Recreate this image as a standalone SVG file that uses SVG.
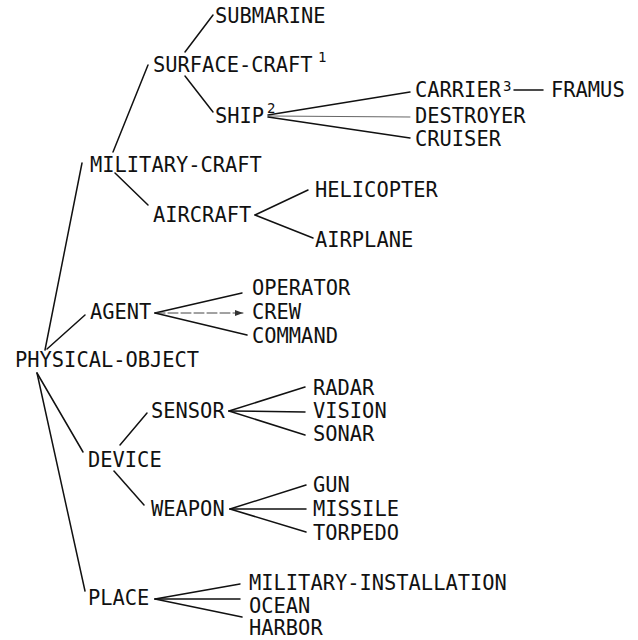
<svg xmlns="http://www.w3.org/2000/svg" width="638" height="640" viewBox="0 0 638 640">
<style>
  text { font-family: "DejaVu Sans Mono", "Liberation Mono", monospace; font-size: 20.4px; fill: #111; }
  text.sup { font-size: 14px; }
  line { stroke: #111; stroke-width: 1.5; stroke-linecap: round; }
  line.thin { stroke: #555; stroke-width: 0.9; }
  line.dash { stroke: #444; stroke-width: 1; stroke-dasharray: 10 3; }
</style>
<defs>
  <marker id="tip" viewBox="0 0 8 6" refX="8" refY="3" markerWidth="8" markerHeight="6" markerUnits="userSpaceOnUse" orient="auto">
    <path d="M0,0 L8,3 L0,6 Z" fill="#333"/>
  </marker>
</defs>
<rect width="638" height="640" fill="#fff"/>
<g id="connectors">
  <line x1="45" y1="350" x2="82" y2="163"/>
  <line x1="47" y1="349" x2="85" y2="315"/>
  <line x1="37" y1="373" x2="83" y2="452"/>
  <line x1="37" y1="373" x2="85" y2="591"/>
  <line x1="113" y1="152" x2="148" y2="65"/>
  <line x1="115" y1="173" x2="148" y2="205"/>
  <line x1="185" y1="52" x2="213" y2="15"/>
  <line x1="185" y1="76" x2="213" y2="112"/>
  <line x1="268" y1="115" x2="410" y2="92"/>
  <line class="thin" x1="268" y1="116" x2="410" y2="117"/>
  <line x1="268" y1="117" x2="410" y2="138"/>
  <line x1="514" y1="90" x2="543" y2="90"/>
  <line x1="255" y1="215" x2="308" y2="190"/>
  <line x1="255" y1="215" x2="313" y2="238"/>
  <line x1="155" y1="313" x2="242" y2="293"/>
  <line class="dash" x1="155" y1="313" x2="243" y2="313" marker-end="url(#tip)"/>
  <line x1="155" y1="313" x2="247" y2="335"/>
  <line x1="120" y1="445" x2="147" y2="413"/>
  <line x1="114" y1="471" x2="144" y2="505"/>
  <line x1="229" y1="411" x2="305" y2="387"/>
  <line x1="229" y1="411" x2="305" y2="412"/>
  <line x1="229" y1="411" x2="305" y2="435"/>
  <line x1="230" y1="509" x2="306" y2="485"/>
  <line x1="230" y1="509" x2="306" y2="509"/>
  <line x1="230" y1="509" x2="306" y2="532"/>
  <line x1="155" y1="599" x2="240" y2="584"/>
  <line x1="155" y1="599" x2="240" y2="599"/>
  <line x1="155" y1="599" x2="242" y2="617"/>
</g>
<g id="physical-object"><text x="15" y="367">PHYSICAL-OBJECT</text></g>
<g id="military-craft"><text x="90" y="172">MILITARY-CRAFT</text></g>
<g id="surface-craft"><text x="153" y="72">SURFACE-CRAFT</text><text class="sup" x="318" y="62">1</text></g>
<g id="submarine"><text x="215" y="23">SUBMARINE</text></g>
<g id="ship"><text x="215" y="123">SHIP</text><text class="sup" x="267" y="113">2</text></g>
<g id="carrier"><text x="415" y="97">CARRIER</text><text class="sup" x="503" y="91">3</text></g>
<g id="framus"><text x="551" y="97">FRAMUS</text></g>
<g id="destroyer"><text x="415" y="123">DESTROYER</text></g>
<g id="cruiser"><text x="415" y="146">CRUISER</text></g>
<g id="aircraft"><text x="153" y="222">AIRCRAFT</text></g>
<g id="helicopter"><text x="315" y="197">HELICOPTER</text></g>
<g id="airplane"><text x="315" y="247">AIRPLANE</text></g>
<g id="agent"><text x="90" y="319">AGENT</text></g>
<g id="operator"><text x="252" y="295">OPERATOR</text></g>
<g id="crew"><text x="252" y="319">CREW</text></g>
<g id="command"><text x="252" y="343">COMMAND</text></g>
<g id="device"><text x="88" y="467">DEVICE</text></g>
<g id="sensor"><text x="151" y="418">SENSOR</text></g>
<g id="radar"><text x="313" y="395">RADAR</text></g>
<g id="vision"><text x="313" y="418">VISION</text></g>
<g id="sonar"><text x="313" y="441">SONAR</text></g>
<g id="weapon"><text x="151" y="516">WEAPON</text></g>
<g id="gun"><text x="313" y="492">GUN</text></g>
<g id="missile"><text x="313" y="516">MISSILE</text></g>
<g id="torpedo"><text x="313" y="540">TORPEDO</text></g>
<g id="place"><text x="88" y="605">PLACE</text></g>
<g id="military-installation"><text x="249" y="590">MILITARY-INSTALLATION</text></g>
<g id="ocean"><text x="249" y="612.5">OCEAN</text></g>
<g id="harbor"><text x="249" y="635">HARBOR</text></g>
</svg>
